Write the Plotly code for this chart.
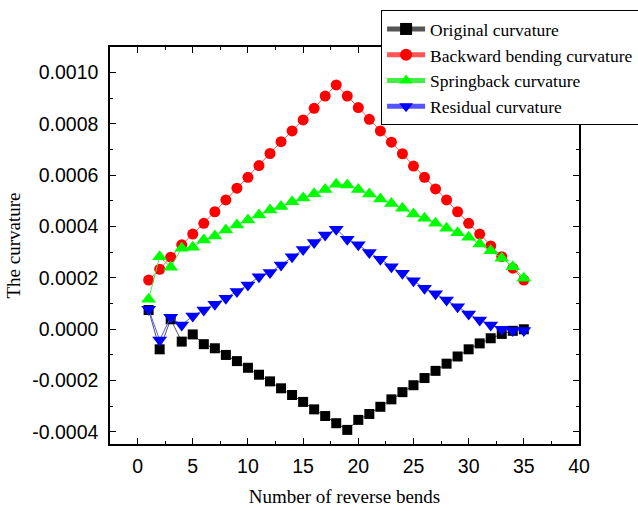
import plotly.graph_objects as go

bends = list(range(1, 36))

original = [0.000075, -0.000078, 0.000039, -0.000048, -0.000020, -0.000058, -0.000074,
            -0.000100, -0.000124, -0.000150, -0.000177, -0.000203, -0.000230, -0.000256,
            -0.000283, -0.000312, -0.000338, -0.000366, -0.000392, -0.000353, -0.000330,
            -0.000302, -0.000273, -0.000245, -0.000218, -0.000190, -0.000162, -0.000134,
            -0.000106, -0.000078, -0.000055, -0.000035, -0.000018, -0.000006, 0.000000]

backward = [0.000192, 0.000234, 0.000281, 0.000329, 0.000371, 0.000413, 0.000458,
            0.000504, 0.000550, 0.000592, 0.000638, 0.000685, 0.000731, 0.000773,
            0.000816, 0.000861, 0.000909, 0.000952, 0.000909, 0.000864, 0.000818,
            0.000773, 0.000729, 0.000684, 0.000636, 0.000592, 0.000547, 0.000504,
            0.000458, 0.000413, 0.000371, 0.000325, 0.000283, 0.000238, 0.000192]

springback = [0.000117, 0.000283, 0.000242, 0.000316, 0.000320, 0.000348, 0.000364,
              0.000387, 0.000406, 0.000426, 0.000445, 0.000465, 0.000478, 0.000497,
              0.000512, 0.000528, 0.000545, 0.000565, 0.000562, 0.000545, 0.000527,
              0.000508, 0.000490, 0.000472, 0.000449, 0.000433, 0.000413, 0.000394,
              0.000376, 0.000359, 0.000332, 0.000306, 0.000277, 0.000244, 0.000199]

residual = [0.000078, -0.000042, 0.000047, 0.000017, 0.000052, 0.000075, 0.000098,
            0.000121, 0.000147, 0.000173, 0.000205, 0.000221, 0.000251, 0.000283,
            0.000311, 0.000338, 0.000367, 0.000390, 0.000351, 0.000329, 0.000299,
            0.000273, 0.000244, 0.000218, 0.000189, 0.000160, 0.000138, 0.000114,
            0.000088, 0.000060, 0.000036, 0.000017, 0.000000, -0.000005, -0.000005]

names = ["Original curvature", "Backward bending curvature",
         "Springback curvature", "Residual curvature"]

y_tick_vals = [-0.0004, -0.0002, 0.0, 0.0002, 0.0004, 0.0006, 0.0008, 0.0010]
y_tick_text = ["-0.0004", "-0.0002", "0.0000", "0.0002", "0.0004", "0.0006", "0.0008", "0.0010"]
x_tick_vals = [0, 5, 10, 15, 20, 25, 30, 35, 40]

series = [
    (original, names[0], "#000000", "#555555", "square", 10),
    (backward, names[1], "#FF0000", "#FF5555", "circle", 11),
    (springback, names[2], "#00FF00", "#44EE44", "triangle-up", 13),
    (residual, names[3], "#0000FF", "#5555FF", "triangle-down", 13),
]

fig = go.Figure()
for vals, name, mcol, lcol, sym, size in series:
    fig.add_trace(go.Scatter(
        x=bends, y=vals, name=name, mode="lines+markers",
        line=dict(color=lcol, width=1),
        marker=dict(symbol=sym, size=size, color=mcol, line=dict(width=0)),
    ))

axis_common = dict(
    showline=True, linecolor="black", linewidth=1.5, mirror="ticks",
    ticks="inside", ticklen=6, tickwidth=1, tickcolor="black",
    showgrid=False, zeroline=False,
    tickfont=dict(family="Liberation Sans, Arial", size=19.5, color="black"),
)

title_font = dict(family="Liberation Serif, Times New Roman", size=19, color="black")

fig.update_xaxes(
    range=[-2.5, 40], tickvals=x_tick_vals, ticklabelstandoff=4,
    minor=dict(ticks="inside", ticklen=3, dtick=2.5, tick0=0, tickcolor="black"),
    title=dict(text="Number of reverse bends", standoff=14, font=title_font),
    **axis_common,
)
fig.update_yaxes(
    range=[-0.000447, 0.0011], tickvals=y_tick_vals, ticktext=y_tick_text,
    ticklabelstandoff=6,
    minor=dict(ticks="inside", ticklen=3, dtick=0.0001, tick0=0, tickcolor="black"),
    title=dict(text="The curvature", standoff=7, font=title_font),
    **axis_common,
)

fig.update_layout(
    width=638, height=511,
    margin=dict(l=110, r=59, t=47, b=67, autoexpand=False),
    paper_bgcolor="white", plot_bgcolor="white",
    showlegend=True,
    legend=dict(
        x=0.578, y=1.093, xanchor="left", yanchor="top",
        bgcolor="white", bordercolor="black", borderwidth=1,
        font=dict(family="Liberation Serif, Times New Roman", size=17.5, color="black"),
        tracegroupgap=0, itemsizing="constant", itemwidth=38,
    ),
)

fig.write_html("out.html")
